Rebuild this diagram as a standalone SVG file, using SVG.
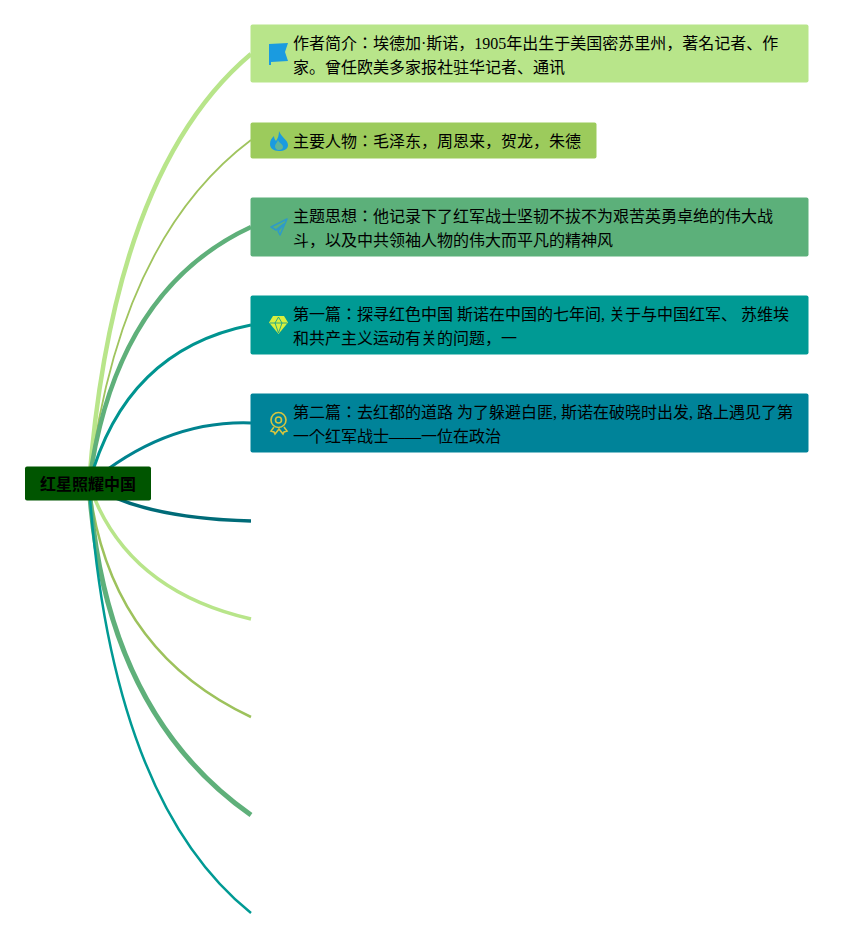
<svg xmlns="http://www.w3.org/2000/svg" width="853" height="938" viewBox="0 0 853 938">
<style>
text{font-family:"Liberation Serif","Noto Sans CJK JP",serif;font-size:16px;fill:#000}
.l{fill:none;stroke-linecap:butt}
</style>
<rect width="853" height="938" fill="#fff"/>
<g id="connectors">
<path class="l" d="M89 484Q113 170 251 54" stroke="#b8e58a" stroke-width="4.500"/>
<path class="l" d="M89 484Q118 240 251 140" stroke="#a0c45e" stroke-width="1.800"/>
<path class="l" d="M89 484Q115 290 251 227" stroke="#5fb07a" stroke-width="4.500"/>
<path class="l" d="M89 484Q125 350 251 325" stroke="#009490" stroke-width="3"/>
<path class="l" d="M89 484Q165 420 251 423" stroke="#00838f" stroke-width="3"/>
<path class="l" d="M89 484Q140 518 251 521" stroke="#006b78" stroke-width="3.500"/>
<path class="l" d="M89 484Q125 590 251 619" stroke="#b8e58a" stroke-width="3.500"/>
<path class="l" d="M89 484Q108 650 251 717" stroke="#9dc25c" stroke-width="2.500"/>
<path class="l" d="M89 484Q104 712 251 815" stroke="#5fb07a" stroke-width="5"/>
<path class="l" d="M89 484Q110 800 251 913" stroke="#009a94" stroke-width="2.500"/>
</g>
<g id="root"><rect x="25" y="466.500" width="126" height="34" rx="2" fill="#005500"/><text x="40" y="490" font-weight="bold">红星照耀中国</text></g>
<g id="node1"><rect x="250.500" y="24.500" width="558" height="58" rx="2" fill="#b8e58a"/>
<path d="M269 44L288 43L285 52L288 61L271 62V65H269Z" fill="#1a9be0"/>
<text x="293" y="49">作者简介：埃德加·斯诺，1905年出生于美国密苏里州，著名记者、作</text><text x="293" y="73">家。曾任欧美多家报社驻华记者、通讯</text></g>
<g id="node2"><rect x="250.500" y="122.500" width="346" height="36" rx="2" fill="#9ccb5c"/>
<path d="M279 131C281 137 288 140 288 145C288 149 284 151 279 151C273 151 270 148 270 144C270 140 272 138 274 136C274 138 275 140 276 141C278 138 279 135 279 131Z" fill="#1a9be0"/>
<path d="M279 150C276 150 275 148 275 146C275 144 277 143 278 140C279 143 283 144 283 147C283 149 281 150 279 150Z" fill="#9ccb5c" opacity=".55"/>
<text x="293" y="147">主要人物：毛泽东，周恩来，贺龙，朱德</text></g>
<g id="node3"><rect x="250.500" y="197.500" width="558" height="59" rx="2" fill="#5cb07a"/>
<path d="M287 219L271 227L276 230L284 224L278 231L280 235Z" fill="none" stroke="#2f9bc8" stroke-width="1.600" stroke-linejoin="round"/>
<text x="293" y="222">主题思想：他记录下了红军战士坚韧不拔不为艰苦英勇卓绝的伟大战</text><text x="293" y="246">斗，以及中共领袖人物的伟大而平凡的精神风</text></g>
<g id="node4"><rect x="250.500" y="295.500" width="558" height="59" rx="2" fill="#009a94"/>
<path d="M273 316H284L288 322.500L278.500 334L269 322.500Z" fill="#d9ef3e"/>
<path d="M270 323H287M275 323L278.500 333L282 323M278.500 317L275 323M278.500 317L282 323" fill="none" stroke="#009a94" stroke-width=".8"/>
<text x="293" y="320">第一篇：探寻红色中国 斯诺在中国的七年间, 关于与中国红军、 苏维埃</text><text x="293" y="344">和共产主义运动有关的问题，一</text></g>
<g id="node5"><rect x="250.500" y="393.500" width="558" height="59" rx="2" fill="#008399"/>
<circle cx="278.500" cy="420" r="7.500" fill="none" stroke="#d6c53f" stroke-width="1.600"/><circle cx="278.500" cy="420" r="3" fill="none" stroke="#d6c53f" stroke-width="1.600"/>
<path d="M274 427L271 431L274 432L275 434L279 429L283 434L284 432L287 431L284 427" fill="none" stroke="#d6c53f" stroke-width="1.600"/>
<text x="293" y="418">第二篇：去红都的道路 为了躲避白匪, 斯诺在破晓时出发, 路上遇见了第</text><text x="293" y="442">一个红军战士——一位在政治</text></g>
</svg>
